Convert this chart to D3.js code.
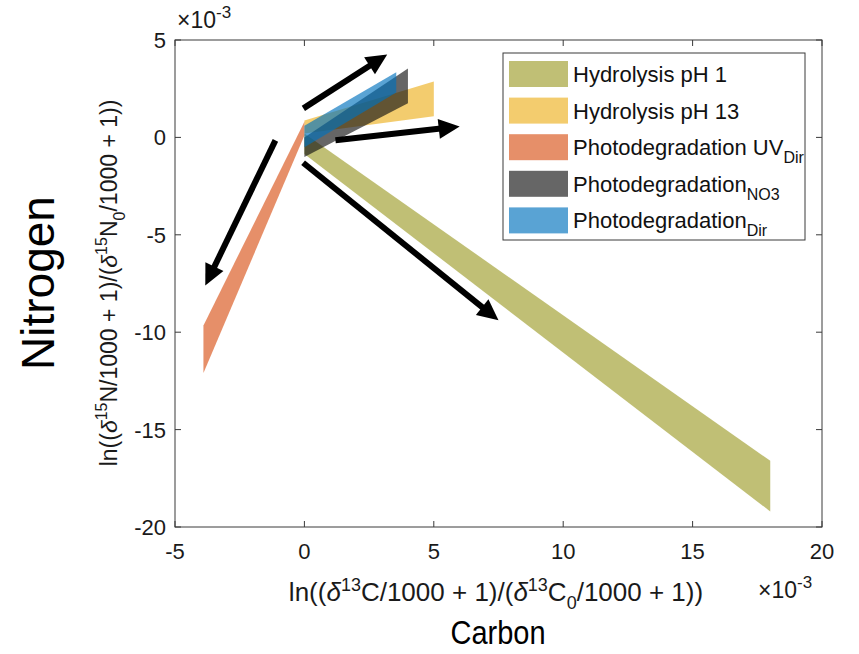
<!DOCTYPE html>
<html>
<head>
<meta charset="utf-8">
<script src="https://cdn.jsdelivr.net/npm/d3@7"></script>
<style>
  body { margin: 0; background: #fff; }
  svg { font-family: "Liberation Sans", Arial, Helvetica, sans-serif; }
</style>
</head>
<body>
<div id="chart"></div>
<script>
// values in units of 1e-3
var seriesNames = ["Hydrolysis pH 1", "Hydrolysis pH 13", "Photodegradation UV", "Photodegradation", "Photodegradation"];
var seriesSubs = ["", "", "Dir", "NO3", "Dir"];
var seriesColors = ["rgb(158,157,43)", "#EDB120", "#D95319", "#141414", "#0072BD"];
var bandX = [[0, 18], [0, 5], [-3.9, 0], [0, 4.0], [0, 3.55]];
var bandUpper = [[0.2, -16.6], [0.87, 2.87], [-9.65, 0.8], [0.0, 3.54], [0.6, 3.34]];
var bandLower = [[-0.85, -19.2], [0.2, 1.08], [-12.1, 0.1], [-1.0, 1.75], [-0.5, 2.3]];

var arrowFrom = [[-0.04, 1.49], [1.2, -0.15], [-1.12, -0.15], [-0.05, -1.3]];
var arrowTo = [[3.2, 4.26], [6.0, 0.56], [-3.83, -7.6], [7.5, -9.39]];

var xTicks = [-5, 0, 5, 10, 15, 20];
var yTicks = [-20, -15, -10, -5, 0, 5];

var W = 859, H = 654;
var margin = {left: 175, right: 37, top: 40, bottom: 127};

var svg = d3.select("#chart").append("svg")
    .attr("width", W)
    .attr("height", H);

var x = d3.scaleLinear().domain([-5, 20]).range([margin.left, W - margin.right]);
var y = d3.scaleLinear().domain([-20, 5]).range([H - margin.bottom, margin.top]);

svg.append("clipPath").attr("id", "plotclip")
  .append("rect")
    .attr("x", x(-5)).attr("y", y(5))
    .attr("width", x(20) - x(-5)).attr("height", y(-20) - y(5));

// text helpers (sy = vertical stretch)
function htext(px, py, size, sy) {
    return svg.append("text")
        .attr("transform", "translate(" + px + "," + py + ") scale(1," + (sy || 1) + ")")
        .attr("font-size", size).attr("fill", "#1a1a1a");
}
function vtext(px, py, size, sy) {
    return svg.append("text")
        .attr("transform", "translate(" + px + "," + py + ") rotate(-90) scale(" + (sy || 1) + ",1)")
        .attr("font-size", size).attr("fill", "#1a1a1a");
}

// bands
var area = d3.area()
    .x(function(d) { return x(d[0]); })
    .y0(function(d) { return y(d[2]); })
    .y1(function(d) { return y(d[1]); });

var g = svg.append("g").attr("clip-path", "url(#plotclip)");
seriesNames.forEach(function(name, i) {
    var pts = bandX[i].map(function(v, j) { return [v, bandUpper[i][j], bandLower[i][j]]; });
    g.append("path")
        .attr("d", area(pts))
        .attr("fill", seriesColors[i])
        .attr("fill-opacity", 0.65);
});

// arrows
arrowFrom.forEach(function(a, i) {
    var x0 = x(a[0]), y0 = y(a[1]), x1 = x(arrowTo[i][0]), y1 = y(arrowTo[i][1]);
    var dx = x1 - x0, dy = y1 - y0, len = Math.sqrt(dx * dx + dy * dy);
    var ux = dx / len, uy = dy / len;
    var headL = 21, headW = 10;
    var bx = x1 - ux * headL, by = y1 - uy * headL;
    svg.append("line")
        .attr("x1", x0).attr("y1", y0)
        .attr("x2", bx + ux * 2).attr("y2", by + uy * 2)
        .attr("stroke", "#000").attr("stroke-width", 6);
    svg.append("path")
        .attr("d", "M" + x1 + "," + y1 +
            "L" + (bx - uy * headW) + "," + (by + ux * headW) +
            "L" + (bx + uy * headW) + "," + (by - ux * headW) + "Z")
        .attr("fill", "#000");
});

// axes box
var axisColor = "#3a3a3a";
svg.append("rect")
    .attr("x", x(-5)).attr("y", y(5))
    .attr("width", x(20) - x(-5)).attr("height", y(-20) - y(5))
    .attr("fill", "none").attr("stroke", axisColor).attr("stroke-width", 1);

var tickLen = 6;
xTicks.forEach(function(t) {
    svg.append("line").attr("x1", x(t)).attr("x2", x(t))
        .attr("y1", y(-20)).attr("y2", y(-20) - tickLen).attr("stroke", axisColor);
    svg.append("line").attr("x1", x(t)).attr("x2", x(t))
        .attr("y1", y(5)).attr("y2", y(5) + tickLen).attr("stroke", axisColor);
    htext(x(t), y(-20) + 32, 22).attr("text-anchor", "middle").text(t);
});
yTicks.forEach(function(t) {
    svg.append("line").attr("x1", x(-5)).attr("x2", x(-5) + tickLen)
        .attr("y1", y(t)).attr("y2", y(t)).attr("stroke", axisColor);
    svg.append("line").attr("x1", x(20)).attr("x2", x(20) - tickLen)
        .attr("y1", y(t)).attr("y2", y(t)).attr("stroke", axisColor);
    htext(x(-5) - 9, y(t) + 8, 22).attr("text-anchor", "end").text(t);
});

// exponent labels
function expLabel(px, py) {
    var t = htext(px, py, 23);
    t.append("tspan").text("\u00d710");
    t.append("tspan").attr("dy", -10).attr("font-size", 17).text("-3");
}
expLabel(x(-5) + 2, 28);
expLabel(x(20) - 64, 598);

// axis labels
function isoLabel(t, el, sup) {
    t.append("tspan").text("ln((");
    t.append("tspan").attr("font-style", "italic").text("\u03b4");
    t.append("tspan").attr("dy", -10).attr("font-size", sup).text(el[0]);
    t.append("tspan").attr("dy", 10).text(el[1] + "/1000 + 1)/(");
    t.append("tspan").attr("font-style", "italic").text("\u03b4");
    t.append("tspan").attr("dy", -10).attr("font-size", sup).text(el[0]);
    t.append("tspan").attr("dy", 10).text(el[1]);
    t.append("tspan").attr("dy", 8).attr("font-size", sup).text("0");
    t.append("tspan").attr("dy", -8).text("/1000 + 1))");
}
isoLabel(htext(496, 601, 26).attr("text-anchor", "middle"), ["13", "C"], 18);
isoLabel(vtext(117, 283, 23).attr("text-anchor", "middle"), ["15", "N"], 16);

htext(498, 644, 29, 1.15).attr("text-anchor", "middle").attr("fill", "#000").text("Carbon");
svg.append("text")
    .attr("transform", "translate(54,283) rotate(-90)")
    .attr("text-anchor", "middle").attr("font-size", 46).attr("fill", "#000")
    .text("Nitrogen");

// legend
var lg = svg.append("g").attr("transform", "translate(503,53)");
lg.append("rect").attr("width", 302).attr("height", 187)
    .attr("fill", "#fff").attr("stroke", axisColor);
seriesNames.forEach(function(name, i) {
    var ry = 8 + i * 36.6;
    lg.append("rect").attr("x", 6).attr("y", ry).attr("width", 59).attr("height", 26)
        .attr("fill", seriesColors[i]).attr("fill-opacity", 0.65);
    var t = lg.append("text")
        .attr("transform", "translate(70," + (ry + 21) + ")")
        .attr("font-size", 22).attr("fill", "#111");
    t.append("tspan").text(name);
    if (seriesSubs[i]) {
        t.append("tspan").attr("dy", 8).attr("font-size", 16).text(seriesSubs[i]);
    }
});
</script>
</body>
</html>
